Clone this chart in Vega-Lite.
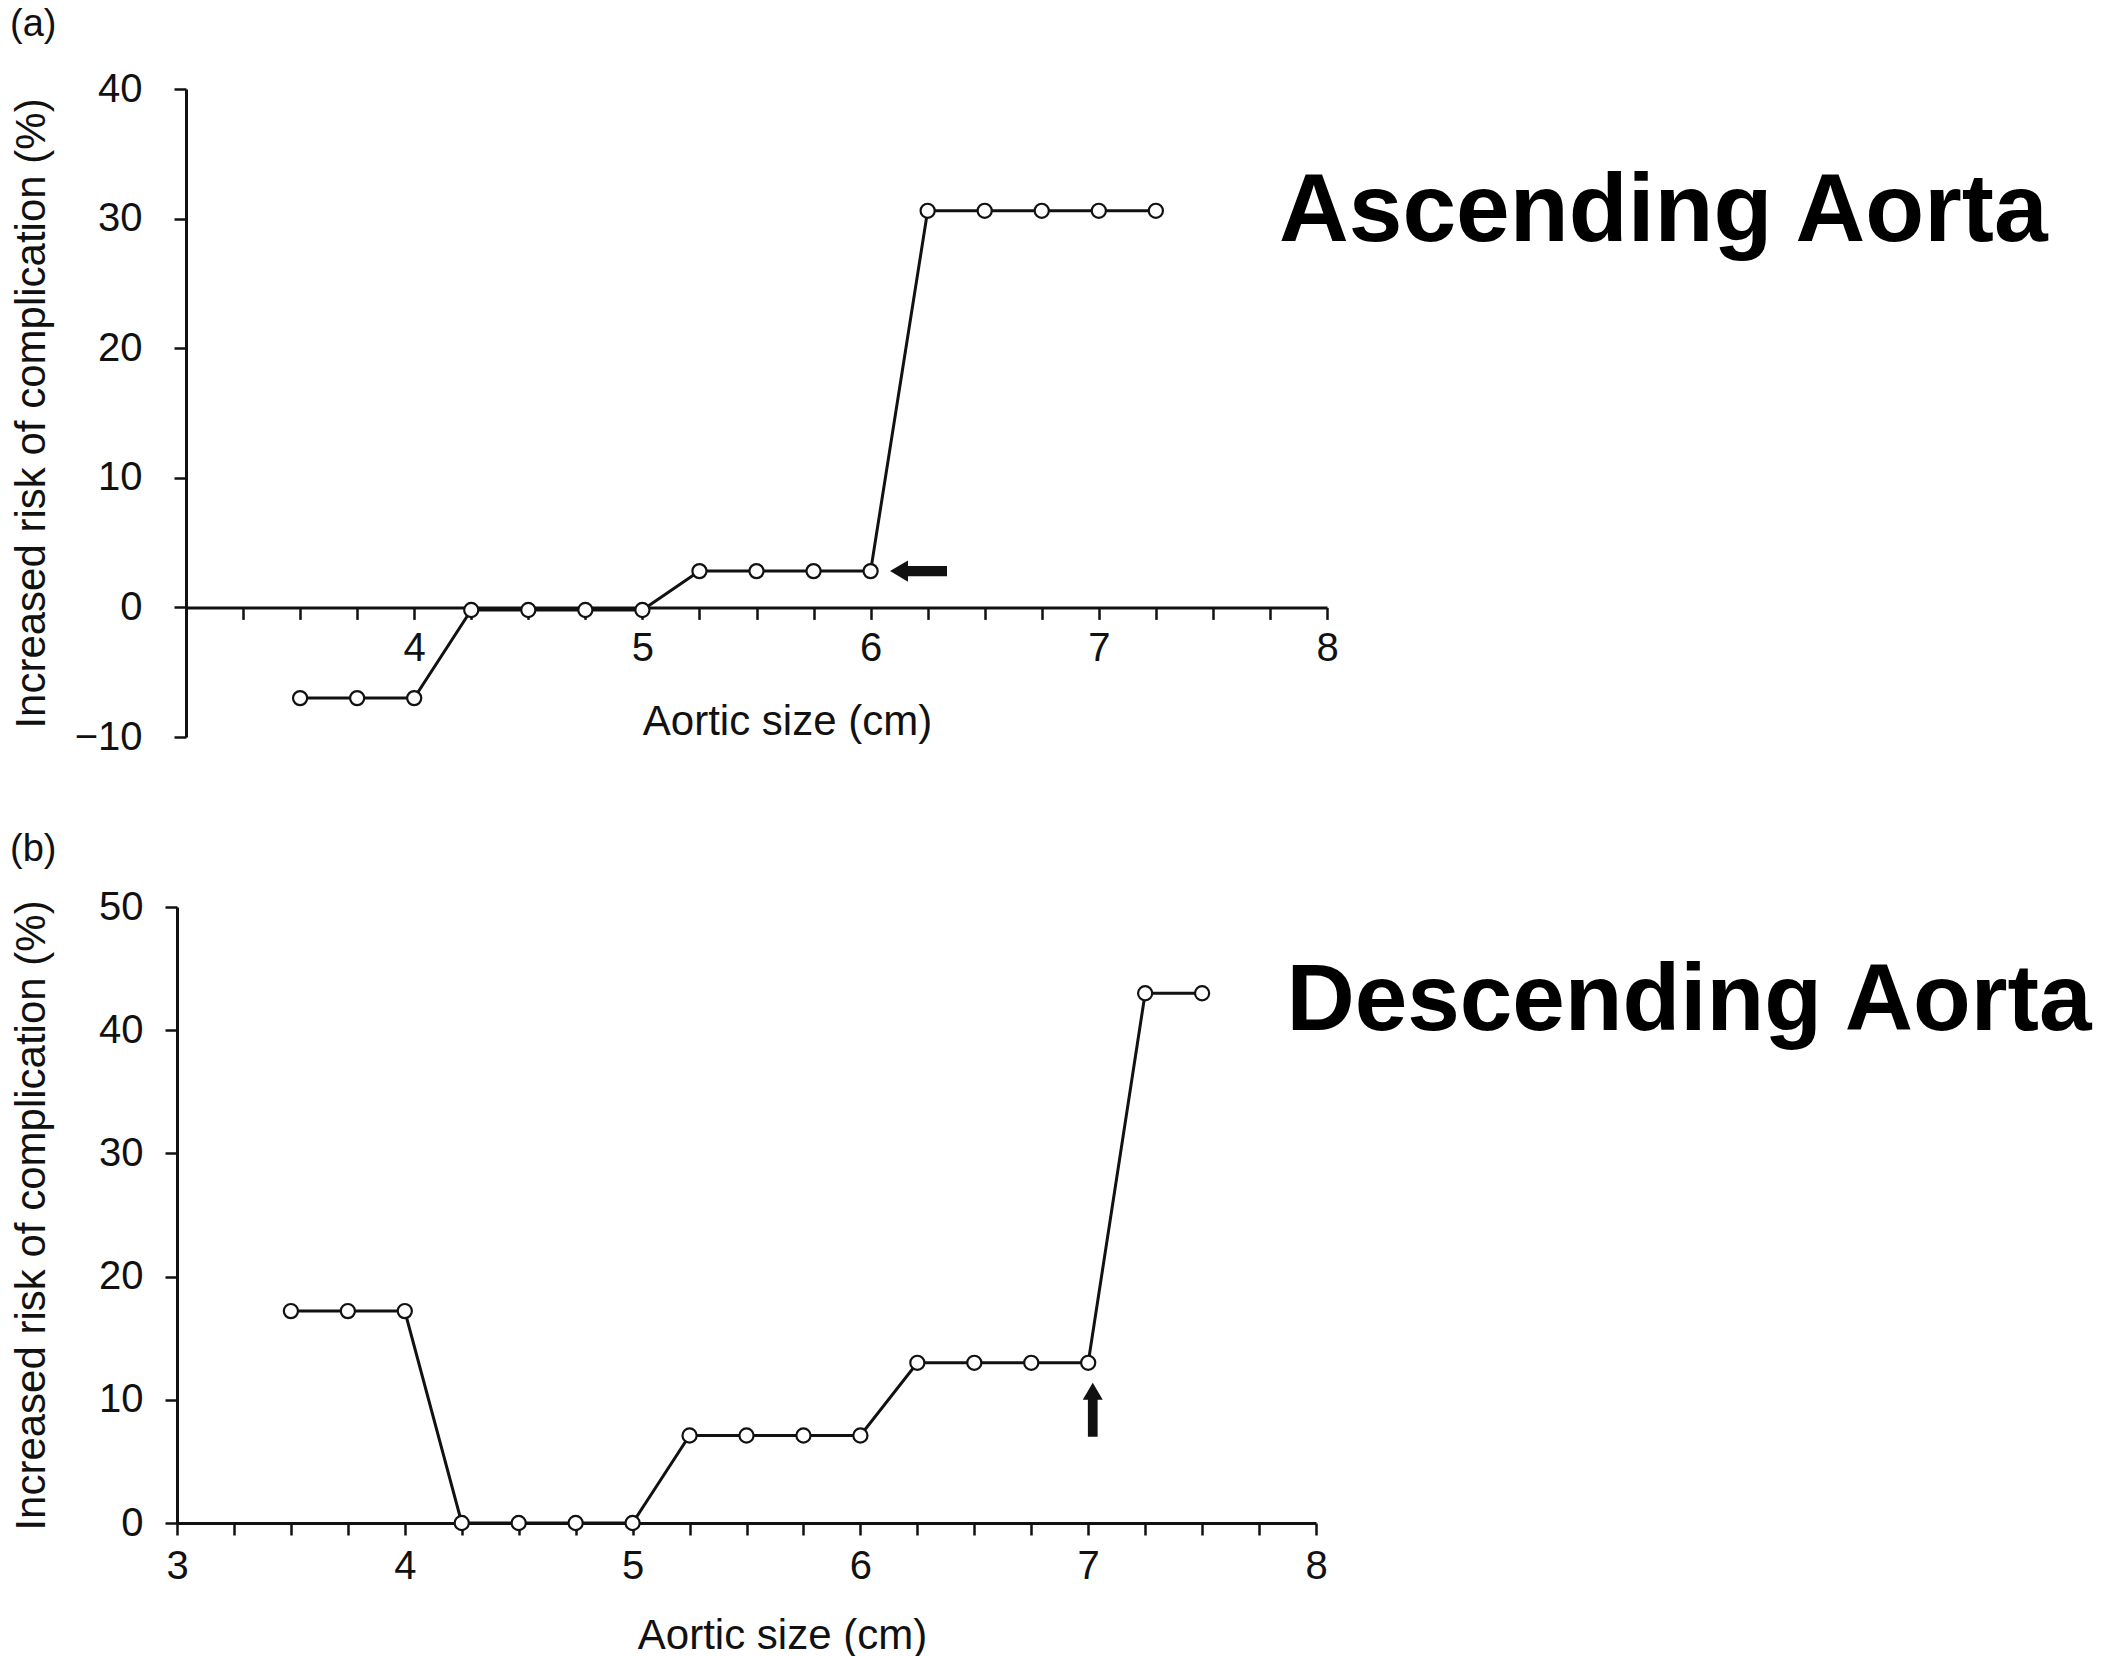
{
  "$schema": "https://vega.github.io/schema/vega-lite/v6.json",
  "background": "white",
  "padding": {"left": 9, "top": 6, "right": 0, "bottom": 0},
  "config": {
    "font": "Liberation Sans",
    "view": {"stroke": null},
    "axis": {
      "grid": false,
      "domainColor": "#111111",
      "domainWidth": 3,
      "tickColor": "#111111",
      "tickWidth": 2.5,
      "tickSize": 12,
      "labelFont": "Liberation Sans",
      "labelFontSize": 40,
      "labelColor": "#111111",
      "titleFont": "Liberation Sans",
      "titleFontSize": 42,
      "titleFontWeight": "normal",
      "titleColor": "#111111"
    },
    "title": {"fontSize": 38, "fontWeight": "normal", "anchor": "start", "frame": "bounds", "color": "#111111", "font": "Liberation Sans"}
  },
  "datasets": {
    "ascending": [
      {"size": 3.5, "risk": -7.0}, {"size": 3.75, "risk": -7.0}, {"size": 4.0, "risk": -7.0},
      {"size": 4.25, "risk": -0.2}, {"size": 4.5, "risk": -0.2}, {"size": 4.75, "risk": -0.2}, {"size": 5.0, "risk": -0.2},
      {"size": 5.25, "risk": 2.8}, {"size": 5.5, "risk": 2.8}, {"size": 5.75, "risk": 2.8}, {"size": 6.0, "risk": 2.8},
      {"size": 6.25, "risk": 30.6}, {"size": 6.5, "risk": 30.6}, {"size": 6.75, "risk": 30.6}, {"size": 7.0, "risk": 30.6}, {"size": 7.25, "risk": 30.6}
    ],
    "descending": [
      {"size": 3.5, "risk": 17.2}, {"size": 3.75, "risk": 17.2}, {"size": 4.0, "risk": 17.2},
      {"size": 4.25, "risk": 0.0}, {"size": 4.5, "risk": 0.0}, {"size": 4.75, "risk": 0.0}, {"size": 5.0, "risk": 0.0},
      {"size": 5.25, "risk": 7.1}, {"size": 5.5, "risk": 7.1}, {"size": 5.75, "risk": 7.1}, {"size": 6.0, "risk": 7.1},
      {"size": 6.25, "risk": 13.0}, {"size": 6.5, "risk": 13.0}, {"size": 6.75, "risk": 13.0}, {"size": 7.0, "risk": 13.0},
      {"size": 7.25, "risk": 43.0}, {"size": 7.5, "risk": 43.0}
    ],
    "arrows": [
      {"panel": "a", "size": 6.21, "risk": 2.8},
      {"panel": "b", "size": 7.02, "risk": 9.2}
    ],
    "labels": [
      {"panel": "a", "size": 7.79, "risk": 28.3, "label": "Ascending Aorta"},
      {"panel": "b", "size": 7.87, "risk": 40.0, "label": "Descending Aorta"}
    ]
  },
  "align": "none",
  "spacing": 74,
  "vconcat": [
    {
      "title": {"text": "(a)", "offset": 25},
      "width": 1141,
      "height": 648,
      "encoding": {
        "x": {
          "field": "size", "type": "quantitative",
          "scale": {"domain": [3, 8], "nice": false, "zero": false},
          "axis": {
            "title": "Aortic size (cm)",
            "values": [3, 3.25, 3.5, 3.75, 4, 4.25, 4.5, 4.75, 5, 5.25, 5.5, 5.75, 6, 6.25, 6.5, 6.75, 7, 7.25, 7.5, 7.75, 8],
            "labelExpr": "datum.value % 1 === 0 && datum.value > 3 ? format(datum.value, 'd') : ''",
            "labelOverlap": false,
            "labelFlush": false,
            "offset": -129.6,
            "labelPadding": 9,
            "titleX": 601,
            "titleY": 114,
            "titleBaseline": "middle"
          }
        },
        "y": {
          "field": "risk", "type": "quantitative",
          "scale": {"domain": [-10, 40], "nice": false, "zero": false},
          "axis": {
            "title": "Increased risk of complication (%)",
            "values": [-10, 0, 10, 20, 30, 40],
            "labelPadding": 32,
            "titleX": -155,
            "titleBaseline": "middle"
          }
        }
      },
      "layer": [
        {"data": {"name": "ascending"}, "mark": {"type": "line", "color": "#111111", "strokeWidth": 3}},
        {"data": {"name": "ascending"}, "mark": {"type": "point", "shape": "circle", "filled": true, "fill": "white", "stroke": "#111111", "strokeWidth": 2.2, "size": 200, "opacity": 1}},
        {"data": {"name": "arrows"}, "transform": [{"filter": "datum.panel === 'a'"}],
         "mark": {"type": "point", "shape": "M-1,0L-0.37,-0.37L-0.37,-0.18L1,-0.18L1,0.18L-0.37,0.18L-0.37,0.37Z", "filled": true, "color": "#111111", "opacity": 1, "size": 3249}},
        {"data": {"name": "labels"}, "transform": [{"filter": "datum.panel === 'a'"}],
         "mark": {"type": "text", "align": "left", "baseline": "alphabetic", "fontSize": 96.5, "fontWeight": "bold", "font": "Liberation Sans", "color": "#000000"},
         "encoding": {"text": {"field": "label"}}}
      ]
    },
    {
      "title": {"text": "(b)", "offset": 18},
      "width": 1139,
      "height": 616,
      "encoding": {
        "x": {
          "field": "size", "type": "quantitative",
          "scale": {"domain": [3, 8], "nice": false, "zero": false, "range": [-9, 1130]},
          "axis": {
            "title": "Aortic size (cm)",
            "values": [3, 3.25, 3.5, 3.75, 4, 4.25, 4.5, 4.75, 5, 5.25, 5.5, 5.75, 6, 6.25, 6.5, 6.75, 7, 7.25, 7.5, 7.75, 8],
            "labelExpr": "datum.value % 1 === 0 ? format(datum.value, 'd') : ''",
            "labelOverlap": false,
            "labelFlush": false,
            "labelPadding": 11,
            "titleX": 596,
            "titleY": 112,
            "titleBaseline": "middle"
          }
        },
        "y": {
          "field": "risk", "type": "quantitative",
          "scale": {"domain": [0, 50], "nice": false, "zero": false},
          "axis": {
            "title": "Increased risk of complication (%)",
            "values": [0, 10, 20, 30, 40, 50],
            "offset": 9,
            "labelPadding": 22,
            "titleX": -146,
            "titleBaseline": "middle"
          }
        }
      },
      "layer": [
        {"data": {"name": "descending"}, "mark": {"type": "line", "color": "#111111", "strokeWidth": 3}},
        {"data": {"name": "descending"}, "mark": {"type": "point", "shape": "circle", "filled": true, "fill": "white", "stroke": "#111111", "strokeWidth": 2.2, "size": 200, "opacity": 1}},
        {"data": {"name": "arrows"}, "transform": [{"filter": "datum.panel === 'b'"}],
         "mark": {"type": "point", "shape": "M-1,0L-0.37,-0.37L-0.37,-0.18L1,-0.18L1,0.18L-0.37,0.18L-0.37,0.37Z", "angle": 90, "filled": true, "color": "#111111", "opacity": 1, "size": 2916}},
        {"data": {"name": "labels"}, "transform": [{"filter": "datum.panel === 'b'"}],
         "mark": {"type": "text", "align": "left", "baseline": "alphabetic", "fontSize": 94.5, "fontWeight": "bold", "font": "Liberation Sans", "color": "#000000"},
         "encoding": {"text": {"field": "label"}}}
      ]
    }
  ]
}
